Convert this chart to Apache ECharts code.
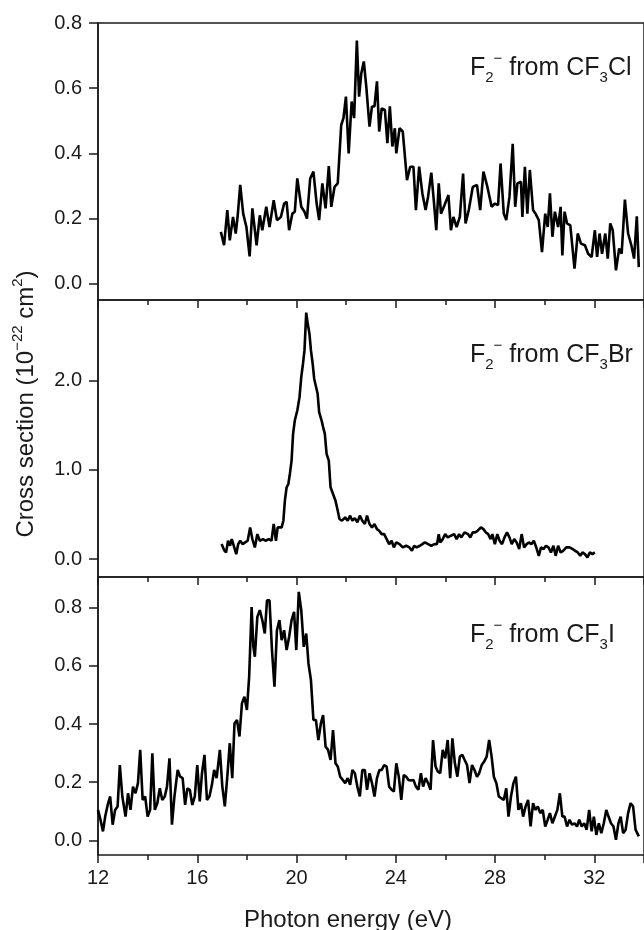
<!DOCTYPE html>
<html>
<head>
<meta charset="utf-8">
<script src="https://cdn.jsdelivr.net/npm/echarts@6/dist/echarts.min.js"></script>
<style>
  html, body { margin: 0; padding: 0; background: #fff; }
  #chart { width: 644px; height: 930px; }
</style>
</head>
<body>
<div id="chart"></div>
<script>
// F2- cross sections, [photon energy (eV), cross section (1e-22 cm2)]
const cf3clData = [
  [16.95,0.159],[17.08,0.118],[17.21,0.226],[17.31,0.133],[17.44,0.205],[17.55,0.154],[17.63,0.210],[17.73,0.303],
  [17.85,0.215],[17.98,0.174],[18.11,0.084],[18.22,0.231],[18.39,0.118],[18.52,0.210],[18.62,0.164],[18.78,0.236],
  [18.91,0.174],[19.08,0.256],[19.21,0.195],[19.37,0.205],[19.50,0.246],[19.60,0.251],[19.70,0.164],[19.83,0.215],
  [19.93,0.221],[20.03,0.323],[20.19,0.236],[20.32,0.221],[20.42,0.200],[20.55,0.323],[20.68,0.344],[20.81,0.246],
  [20.91,0.195],[21.04,0.308],[21.17,0.231],[21.30,0.361],[21.40,0.236],[21.53,0.297],[21.66,0.308],[21.80,0.487],
  [21.89,0.508],[21.99,0.574],[22.10,0.400],[22.22,0.559],[22.32,0.508],[22.43,0.746],[22.52,0.574],[22.61,0.646],
  [22.71,0.682],[22.81,0.605],[22.94,0.482],[23.04,0.544],[23.14,0.544],[23.24,0.621],[23.33,0.467],[23.43,0.538],
  [23.56,0.533],[23.66,0.431],[23.76,0.544],[23.86,0.421],[23.96,0.477],[24.02,0.400],[24.15,0.477],[24.28,0.467],
  [24.35,0.462],[24.45,0.318],[24.58,0.359],[24.71,0.359],[24.81,0.226],[24.94,0.359],[25.07,0.277],[25.20,0.226],
  [25.30,0.267],[25.43,0.341],[25.53,0.256],[25.63,0.164],[25.73,0.308],[25.82,0.215],[25.96,0.241],[26.12,0.272],
  [26.22,0.164],[26.32,0.205],[26.45,0.174],[26.58,0.205],[26.71,0.338],[26.81,0.185],[26.94,0.226],[27.10,0.297],
  [27.27,0.303],[27.40,0.226],[27.53,0.344],[27.69,0.297],[27.86,0.236],[27.99,0.246],[28.12,0.241],[28.22,0.369],
  [28.35,0.215],[28.45,0.195],[28.58,0.267],[28.71,0.429],[28.81,0.236],[28.90,0.308],[29.04,0.313],[29.10,0.205],
  [29.20,0.359],[29.30,0.215],[29.40,0.349],[29.53,0.226],[29.63,0.215],[29.76,0.195],[29.89,0.097],[30.02,0.215],
  [30.12,0.174],[30.21,0.277],[30.31,0.144],[30.41,0.221],[30.54,0.174],[30.64,0.236],[30.71,0.087],[30.80,0.221],
  [30.90,0.185],[31.03,0.179],[31.20,0.046],[31.33,0.154],[31.46,0.123],[31.62,0.118],[31.75,0.092],[31.89,0.082],
  [32.02,0.164],[32.11,0.082],[32.21,0.154],[32.31,0.092],[32.44,0.154],[32.54,0.077],[32.64,0.185],[32.74,0.164],
  [32.87,0.041],[33.00,0.108],[33.10,0.092],[33.23,0.258],[33.36,0.154],[33.49,0.118],[33.60,0.077],[33.71,0.207],
  [33.79,0.051]
];

const cf3brData = [
  [16.98,0.168],[17.08,0.101],[17.16,0.075],[17.24,0.206],[17.32,0.150],[17.39,0.224],[17.49,0.131],[17.57,0.056],
  [17.65,0.168],[17.73,0.206],[17.83,0.168],[17.93,0.187],[18.03,0.206],[18.13,0.355],[18.22,0.224],[18.32,0.131],
  [18.42,0.280],[18.52,0.206],[18.65,0.224],[18.75,0.206],[18.88,0.224],[18.99,0.206],[19.08,0.393],[19.17,0.206],
  [19.24,0.355],[19.31,0.336],[19.40,0.355],[19.47,0.430],[19.53,0.654],[19.60,0.804],[19.67,0.841],[19.73,0.953],
  [19.80,1.103],[19.86,1.402],[19.93,1.551],[20.03,1.664],[20.12,1.813],[20.19,2.037],[20.26,2.187],[20.32,2.336],
  [20.39,2.759],[20.45,2.636],[20.52,2.523],[20.58,2.336],[20.65,2.187],[20.71,2.019],[20.78,2.037],[20.85,1.850],
  [20.91,1.645],[21.01,1.551],[21.07,1.477],[21.14,1.402],[21.21,1.178],[21.30,1.103],[21.37,0.804],[21.47,0.729],
  [21.57,0.654],[21.66,0.542],[21.73,0.449],[21.83,0.430],[21.96,0.467],[22.06,0.430],[22.16,0.486],[22.25,0.430],
  [22.35,0.460],[22.45,0.411],[22.55,0.486],[22.65,0.430],[22.75,0.393],[22.84,0.486],[22.94,0.393],[23.04,0.355],
  [23.14,0.393],[23.24,0.336],[23.33,0.318],[23.43,0.280],[23.53,0.280],[23.63,0.224],[23.73,0.168],[23.83,0.206],
  [23.92,0.131],[24.02,0.187],[24.15,0.168],[24.28,0.131],[24.42,0.150],[24.55,0.131],[24.65,0.093],[24.74,0.150],
  [24.84,0.131],[24.97,0.150],[25.07,0.168],[25.17,0.187],[25.30,0.168],[25.43,0.150],[25.56,0.168],[25.66,0.168],
  [25.73,0.280],[25.79,0.187],[25.89,0.224],[25.99,0.280],[26.09,0.243],[26.22,0.262],[26.35,0.280],[26.45,0.224],
  [26.55,0.280],[26.64,0.243],[26.77,0.299],[26.91,0.280],[27.00,0.243],[27.10,0.299],[27.20,0.299],[27.30,0.318],
  [27.43,0.355],[27.53,0.336],[27.63,0.299],[27.72,0.280],[27.82,0.224],[27.89,0.280],[27.99,0.168],[28.09,0.280],
  [28.18,0.206],[28.28,0.168],[28.38,0.243],[28.48,0.299],[28.58,0.243],[28.67,0.168],[28.77,0.224],[28.87,0.187],
  [28.97,0.112],[29.07,0.280],[29.17,0.131],[29.27,0.168],[29.36,0.187],[29.46,0.168],[29.56,0.206],[29.66,0.131],
  [29.76,0.037],[29.85,0.131],[29.95,0.112],[30.05,0.150],[30.15,0.131],[30.25,0.075],[30.35,0.150],[30.44,0.037],
  [30.54,0.150],[30.64,0.075],[30.74,0.093],[30.87,0.131],[31.00,0.131],[31.13,0.112],[31.23,0.093],[31.33,0.075],
  [31.43,0.037],[31.52,0.075],[31.62,0.056],[31.72,0.019],[31.82,0.075],[31.92,0.056],[32.02,0.075]
];

const cf3iData = [
  [12.00,0.105],[12.10,0.071],[12.20,0.031],[12.29,0.082],[12.39,0.122],[12.49,0.151],[12.59,0.054],[12.69,0.105],
  [12.79,0.117],[12.88,0.259],[12.98,0.151],[13.11,0.082],[13.21,0.162],[13.31,0.105],[13.41,0.185],[13.51,0.162],
  [13.61,0.197],[13.70,0.311],[13.80,0.139],[13.90,0.151],[14.00,0.082],[14.10,0.105],[14.19,0.299],[14.29,0.105],
  [14.39,0.128],[14.49,0.179],[14.59,0.139],[14.69,0.151],[14.78,0.185],[14.88,0.282],[14.98,0.054],[15.08,0.151],
  [15.21,0.242],[15.31,0.219],[15.41,0.214],[15.51,0.122],[15.60,0.179],[15.70,0.174],[15.80,0.122],[15.90,0.151],
  [16.00,0.259],[16.10,0.134],[16.19,0.231],[16.29,0.294],[16.39,0.139],[16.49,0.151],[16.59,0.191],[16.68,0.242],
  [16.78,0.214],[16.91,0.311],[17.01,0.185],[17.11,0.117],[17.21,0.219],[17.31,0.334],[17.41,0.214],[17.50,0.402],
  [17.60,0.414],[17.70,0.357],[17.80,0.471],[17.90,0.494],[18.00,0.448],[18.09,0.562],[18.19,0.802],[18.26,0.665],
  [18.32,0.631],[18.42,0.768],[18.52,0.791],[18.62,0.757],[18.72,0.711],[18.81,0.825],[18.91,0.825],[19.01,0.654],
  [19.11,0.528],[19.21,0.722],[19.31,0.757],[19.40,0.688],[19.50,0.722],[19.60,0.654],[19.70,0.699],[19.80,0.757],
  [19.90,0.785],[19.99,0.654],[20.09,0.854],[20.19,0.791],[20.29,0.665],[20.39,0.711],[20.48,0.608],[20.58,0.551],
  [20.68,0.414],[20.78,0.414],[20.88,0.345],[20.98,0.402],[21.07,0.431],[21.17,0.322],[21.27,0.311],[21.37,0.277],
  [21.47,0.379],[21.57,0.265],[21.66,0.254],[21.76,0.219],[21.86,0.208],[21.96,0.197],[22.06,0.214],[22.16,0.191],
  [22.25,0.242],[22.35,0.231],[22.45,0.185],[22.55,0.151],[22.65,0.242],[22.75,0.242],[22.84,0.174],[22.94,0.231],
  [23.04,0.197],[23.14,0.151],[23.24,0.214],[23.34,0.242],[23.43,0.242],[23.53,0.259],[23.63,0.254],[23.73,0.185],
  [23.83,0.174],[23.92,0.168],[24.02,0.265],[24.12,0.219],[24.22,0.139],[24.32,0.225],[24.42,0.219],[24.51,0.208],
  [24.61,0.206],[24.71,0.208],[24.81,0.185],[24.91,0.174],[25.01,0.231],[25.10,0.185],[25.20,0.214],[25.30,0.197],
  [25.40,0.174],[25.50,0.345],[25.60,0.254],[25.69,0.237],[25.79,0.231],[25.89,0.311],[25.99,0.282],[26.09,0.345],
  [26.19,0.214],[26.28,0.351],[26.38,0.265],[26.48,0.219],[26.58,0.288],[26.68,0.294],[26.77,0.277],[26.87,0.259],
  [26.97,0.197],[27.07,0.259],[27.17,0.242],[27.27,0.219],[27.36,0.231],[27.46,0.259],[27.56,0.271],[27.66,0.288],
  [27.76,0.345],[27.86,0.288],[27.95,0.219],[28.05,0.197],[28.15,0.151],[28.25,0.145],[28.35,0.139],[28.45,0.179],
  [28.54,0.082],[28.64,0.151],[28.74,0.197],[28.84,0.219],[28.94,0.105],[29.04,0.128],[29.13,0.082],[29.23,0.117],
  [29.33,0.139],[29.43,0.048],[29.53,0.128],[29.62,0.105],[29.72,0.117],[29.82,0.094],[29.92,0.105],[30.02,0.048],
  [30.12,0.071],[30.21,0.094],[30.31,0.059],[30.41,0.082],[30.51,0.105],[30.61,0.162],[30.71,0.082],[30.80,0.082],
  [30.90,0.048],[31.00,0.071],[31.10,0.054],[31.20,0.059],[31.30,0.048],[31.39,0.071],[31.49,0.048],[31.59,0.059],
  [31.69,0.037],[31.79,0.105],[31.89,0.031],[31.98,0.082],[32.08,0.019],[32.18,0.059],[32.28,0.025],[32.38,0.059],
  [32.48,0.105],[32.57,0.082],[32.67,0.059],[32.77,0.048],[32.87,0.002],[32.97,0.059],[33.06,0.082],[33.16,0.025],
  [33.26,0.037],[33.36,0.094],[33.46,0.128],[33.56,0.117],[33.66,0.037],[33.79,0.014]
];

// tick labels
const xTicks = [12, 16, 20, 24, 28, 32];
const cf3clTicks = [0, 0.2, 0.4, 0.6, 0.8];
const cf3brTicks = [0, 1, 2];
const cf3iTicks = [0, 0.2, 0.4, 0.6, 0.8];

const FONT = "'Liberation Sans', Arial, sans-serif";
const INK = "#1a1a1a";

// panel rectangles
const grids = [
  { left: 98, right: -5, top: 23, height: 277 },
  { left: 98, right: -5, top: 300, height: 277 },
  { left: 98, right: -5, top: 577, height: 278 },
];

function yAxis(idx, min, max, ticks) {
  return {
    type: "value",
    gridIndex: idx,
    min: min,
    max: max,
    axisLine: { show: true, onZero: false, lineStyle: { color: INK, width: 1.5 } },
    axisTick: { show: true, length: 9, customValues: ticks, lineStyle: { color: INK, width: 1.5 } },
    axisLabel: {
      customValues: ticks,
      margin: 16,
      color: INK,
      fontSize: 20,
      fontFamily: FONT,
      formatter: (v) => v.toFixed(1),
    },
    splitLine: { show: false },
  };
}

function xAxis(idx, position, showLabels) {
  return {
    type: "value",
    gridIndex: idx,
    position: position,
    min: 12,
    max: 34,
    interval: 4,
    axisLine: { show: false, onZero: false },
    axisTick: {
      show: idx > 0,
      inside: position === "top",
      length: 8,
      lineStyle: { color: INK, width: 1.5 },
    },
    minorTick: {
      show: idx > 0,
      splitNumber: 2,
      length: 5,
      lineStyle: { color: INK, width: 1.5 },
    },
    axisLabel: {
      show: showLabels,
      customValues: xTicks,
      margin: 13,
      color: INK,
      fontSize: 20,
      fontFamily: FONT,
    },
    splitLine: { show: false },
    minorSplitLine: { show: false },
  };
}

function lineSeries(idx, data) {
  return {
    type: "line",
    xAxisIndex: idx === 2 ? 3 : idx,
    yAxisIndex: idx,
    data: data,
    showSymbol: false,
    lineStyle: { color: "#000", width: 2.6 },
    silent: true,
  };
}

// panel labels:  F2- from CF3X
function panelLabel(top, tail) {
  return {
    type: "text",
    left: 470,
    top: top,
    style: {
      text: "{m|F}{sub|2}{sup|\u2212}{m| from CF}{sub|3}{m|" + tail + "}",
      fill: INK,
      rich: {
        m: { fontSize: 25, fontFamily: FONT, lineHeight: 34, fill: INK },
        sub: { fontSize: 15, fontFamily: FONT, lineHeight: 15, verticalAlign: "bottom", fill: INK },
        sup: { fontSize: 15, fontFamily: FONT, lineHeight: 15, verticalAlign: "top", fill: INK },
      },
    },
  };
}

const options = {
  animation: false,
  backgroundColor: "#fff",
  grid: grids.map((g) => ({
    ...g,
    show: true,
    borderColor: INK,
    borderWidth: 1.5,
    backgroundColor: "transparent",
  })),
  xAxis: [
    xAxis(0, "bottom", false),
    xAxis(1, "top", false),
    xAxis(2, "top", false),
    xAxis(2, "bottom", true),
  ],
  yAxis: [
    yAxis(0, -0.05, 0.8, cf3clTicks),
    yAxis(1, -0.2, 2.9, cf3brTicks),
    yAxis(2, -0.05, 0.905, cf3iTicks),
  ],
  series: [
    lineSeries(0, cf3clData),
    lineSeries(1, cf3brData),
    lineSeries(2, cf3iData),
  ],
  graphic: [
    panelLabel(51, "Cl"),
    panelLabel(338, "Br"),
    panelLabel(618, "I"),
    {
      type: "text",
      x: 348,
      y: 920,
      style: {
        text: "Photon energy (eV)",
        fontSize: 24,
        fontFamily: FONT,
        fill: INK,
        align: "center",
        verticalAlign: "middle",
      },
    },
    {
      type: "text",
      x: 26,
      y: 404,
      rotation: Math.PI / 2,
      style: {
        text: "{m|Cross section (10}{sup|\u221222}{m| cm}{sup|2}{m|)}",
        fill: INK,
        align: "center",
        verticalAlign: "middle",
        rich: {
          m: { fontSize: 24, fontFamily: FONT, lineHeight: 32, fill: INK },
          sup: { fontSize: 15, fontFamily: FONT, lineHeight: 15, verticalAlign: "top", fill: INK },
        },
      },
    },
  ],
};

const chart = echarts.init(document.getElementById("chart"));
chart.setOption(options);
</script>
</body>
</html>
